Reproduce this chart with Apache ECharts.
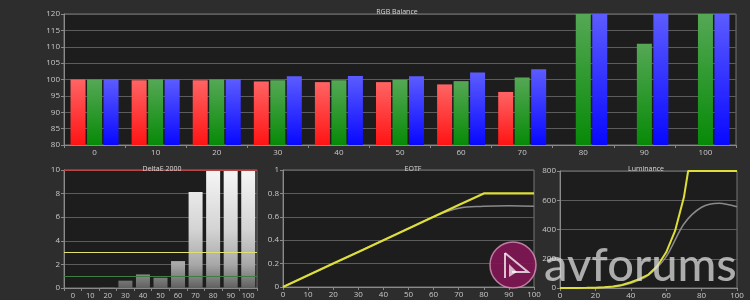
<!DOCTYPE html>
<html><head><meta charset="utf-8">
<script src="https://cdn.jsdelivr.net/npm/echarts@6/dist/echarts.min.js"></script>
<style>html,body{margin:0;padding:0;background:#2d2d2d}#c{width:750px;height:300px}</style>
</head><body><div id="c"></div>
<script>
// ---- data ----
var rgbCategories = ['0','10','20','30','40','50','60','70','80','90','100'];
var redValues   = [100, 99.8, 99.8, 99.4, 99.2, 99.2, 98.5, 96.2, null, null, null];
var greenValues = [100, 100, 100, 99.8, 99.8, 99.9, 99.5, 100.6, 130, 110.9, 130];
var blueValues  = [100, 100, 100.1, 101.0, 101.1, 101.0, 102.1, 103.1, 130, 130, 130];
var rgbTicks = [80, 85, 90, 95, 100, 105, 110, 115, 120];

var deCategories = ['0','10','20','30','40','50','60','70','80','90','100'];
var deValues = [0, 0, 0.05, 0.62, 1.15, 0.87, 2.28, 8.14, 12, 12, 12];
var deLimitRed = 10, deLimitYellow = 3, deLimitGreen = 1;

var eotfX = [0,10,20,30,40,50,60,70,80,90,100];
var eotfTarget   = [0,0.1,0.2,0.3,0.4,0.5,0.6,0.7,0.8,0.8,0.8];
var eotfMeasured = [0,0.1,0.2,0.3,0.4,0.5,0.6,0.673,0.69,0.695,0.69];

var lumTargetX = [0,5,10,15,20,25,30,35,40,45,50,55,60,65,70,72.4,80,90,100];
var lumTargetY = [0,0.1,0.3,1,2.4,5,10,20,39,62,92,150,244,390,620,800,800,800,800];
var lumMeasX = [0,10,20,30,40,50,60,70,80,90,100];
var lumMeasY = [0,0,2,8,33,88,215,438,552,580,555];

// ---- helpers ----
function pairs(xs, ys){ return xs.map(function(x,i){ return [x, ys[i]]; }); }
function grad(top, bottom){ return {type:'linear',x:0,y:0,x2:0,y2:1,colorStops:[{offset:0,color:top},{offset:1,color:bottom}]}; }
var lbl = {color:'#c8c8c8', fontSize:8, fontFamily:'Open Sans', margin:4};
var lblDe = {color:'#c8c8c8', fontSize:7.5, fontFamily:'Open Sans', margin:4, interval:0};
var axLine = {show:true, lineStyle:{color:'#8a8a8a'}};
var split = {show:true, lineStyle:{color:'#5c5c5c', width:1}};
var tick = {show:true, length:3, lineStyle:{color:'#8a8a8a'}};
var tickDe = {show:true, length:3, interval:0, lineStyle:{color:'#8a8a8a'}};
var titleStyle = {color:'#d8d8d8', fontSize:7, fontWeight:'normal', fontFamily:'Open Sans'};

var chart = echarts.init(document.getElementById('c'));
chart.setOption({
  backgroundColor:'#2d2d2d',
  animation:false,
  title:[
    {text:'RGB Balance', left:392, top:3, textAlign:'center', textStyle:titleStyle},
    {text:'DeltaE 2000', left:157, top:160, textAlign:'center', textStyle:titleStyle},
    {text:'EOTF', left:408, top:160, textAlign:'center', textStyle:titleStyle},
    {text:'Luminance', left:641, top:160, textAlign:'center', textStyle:titleStyle}
  ],
  grid:[
    {left:64, top:14, width:672, height:131, show:true, backgroundColor:'#1d1d1d', borderColor:'#777', borderWidth:1},
    {left:64, top:170, width:193, height:118, show:true, backgroundColor:'#1d1d1d', borderColor:'#777', borderWidth:1},
    {left:283, top:170, width:251, height:117, show:true, backgroundColor:'#1d1d1d', borderColor:'#777', borderWidth:1},
    {left:560, top:171, width:177, height:119, show:true, backgroundColor:'#1d1d1d', borderColor:'#777', borderWidth:1}
  ],
  xAxis:[
    {gridIndex:0, type:'category', data:rgbCategories, axisLine:axLine, axisTick:tick, axisLabel:lbl, splitLine:{show:false}},
    {gridIndex:1, type:'category', data:deCategories, axisLine:axLine, axisTick:tickDe, axisLabel:lblDe, splitLine:{show:false}},
    {gridIndex:2, type:'value', min:0, max:100, interval:10, axisLine:axLine, axisTick:tick, axisLabel:lbl, splitLine:{show:false}},
    {gridIndex:3, type:'value', min:0, max:100, interval:20, axisLine:axLine, axisTick:tick, axisLabel:lbl, splitLine:{show:false}}
  ],
  yAxis:[
    {gridIndex:0, type:'value', min:rgbTicks[0], max:rgbTicks[rgbTicks.length-1], interval:5, axisLine:axLine, axisTick:tick, axisLabel:lbl, splitLine:split},
    {gridIndex:1, type:'value', min:0, max:10, interval:2, axisLine:axLine, axisTick:tick, axisLabel:lbl, splitLine:split},
    {gridIndex:2, type:'value', min:0, max:1, interval:0.2, axisLine:axLine, axisTick:tick, axisLabel:lbl, splitLine:split},
    {gridIndex:3, type:'value', min:0, max:800, interval:200, axisLine:axLine, axisTick:tick, axisLabel:lbl, splitLine:split}
  ],
  series:[
    {type:'bar', xAxisIndex:0, yAxisIndex:0, data:redValues, barWidth:15, barGap:'10%', clip:true,
      itemStyle:{color:grad('#ff6464','#ff1414')}},
    {type:'bar', xAxisIndex:0, yAxisIndex:0, data:greenValues, barWidth:15, barGap:'10%', clip:true,
      itemStyle:{color:grad('#55a855','#078a07')}},
    {type:'bar', xAxisIndex:0, yAxisIndex:0, data:blueValues, barWidth:15, barGap:'10%', clip:true,
      itemStyle:{color:grad('#5c5cff','#0808ff')}},
    {type:'bar', xAxisIndex:1, yAxisIndex:1, data:deValues, barWidth:14, clip:true,
      itemStyle:{color:{type:'linear',x:0,y:170,x2:0,y2:288,global:true,colorStops:[
        {offset:0,color:'#f6f6f6'},{offset:0.5,color:'#d4d4d4'},{offset:0.8,color:'#a8a8a8'},{offset:1,color:'#606060'}]}},
      markLine:{silent:true, symbol:'none', label:{show:false}, data:[
        {yAxis:deLimitRed, lineStyle:{color:'#b84848', width:1.2, type:'solid'}},
        {yAxis:deLimitYellow, lineStyle:{color:'#e0e070', width:1.2, type:'solid'}},
        {yAxis:deLimitGreen, lineStyle:{color:'#3f7f3f', width:1.2, type:'solid'}}
      ]}},
    {type:'line', xAxisIndex:2, yAxisIndex:2, data:pairs(eotfX, eotfMeasured), smooth:0.4, showSymbol:false,
      lineStyle:{color:'#8a8a8a', width:1.5}},
    {type:'line', xAxisIndex:2, yAxisIndex:2, data:pairs(eotfX, eotfTarget), showSymbol:false,
      lineStyle:{color:'#dede3a', width:2.2}},
    {type:'line', xAxisIndex:3, yAxisIndex:3, data:pairs(lumMeasX, lumMeasY), smooth:0.3, showSymbol:false,
      lineStyle:{color:'#8a8a8a', width:1.5}},
    {type:'line', xAxisIndex:3, yAxisIndex:3, data:pairs(lumTargetX, lumTargetY), showSymbol:false,
      lineStyle:{color:'#dede3a', width:2}}
  ],
  graphic:[
    {type:'circle', z:100, shape:{cx:513, cy:265, r:23}, style:{fill:'rgba(128,22,84,0.92)', stroke:'rgba(220,150,190,0.8)', lineWidth:1.5}},
    {type:'polyline', z:101, shape:{points:[[505,253],[528,272],[512,272]]}, style:{stroke:'rgba(255,255,255,0.75)', lineWidth:2, fill:null}},
    {type:'polyline', z:101, shape:{points:[[505,253],[505,278]]}, style:{stroke:'rgba(255,255,255,0.75)', lineWidth:2}},
    {type:'polygon', z:101, shape:{points:[[509,264],[517,272],[509,277]]}, style:{fill:'rgba(255,255,255,0.7)'}},
    {type:'text', z:100, style:{text:'avforums', x:544, y:266, font:'500 47px Lato', fill:'rgba(220,220,220,0.75)', textVerticalAlign:'middle'}}
  ]
});
</script>
</body></html>
